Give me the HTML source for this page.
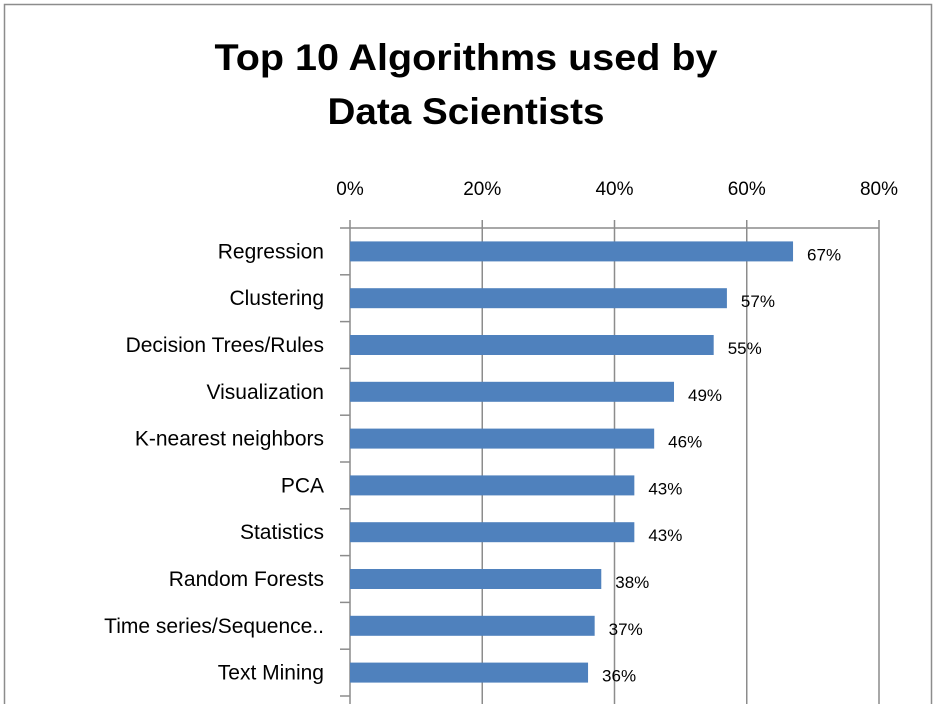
<!DOCTYPE html>
<html><head><meta charset="utf-8"><style>
body{margin:0;background:#fff;}
svg text{font-family:"Liberation Sans",sans-serif;}
</style></head><body>
<svg width="938" height="704" xmlns="http://www.w3.org/2000/svg">
<rect x="4.5" y="4.5" width="927" height="710" fill="#fff" stroke="#8c8c8c" stroke-width="1.5"/>
<text x="466" y="70" text-anchor="middle" font-size="37" font-weight="bold" fill="#000" textLength="503" lengthAdjust="spacingAndGlyphs">Top 10 Algorithms used by</text>
<text x="466" y="124" text-anchor="middle" font-size="37" font-weight="bold" fill="#000" textLength="277" lengthAdjust="spacingAndGlyphs">Data Scientists</text>
<g id="plot"></g>
</svg>
<script>
const categories=["Regression","Clustering","Decision Trees/Rules","Visualization","K-nearest neighbors","PCA","Statistics","Random Forests","Time series/Sequence..","Text Mining"];
const values=[67,57,55,49,46,43,43,38,37,36];
const valueLabels=["67%","57%","55%","49%","46%","43%","43%","38%","37%","36%"];
const ticks=[0,20,40,60,80];
const tickLabels=["0%","20%","40%","60%","80%"];
const NS="http://www.w3.org/2000/svg";
const plotG=document.getElementById('plot');
const x0=350,x1=879,plotTop=228,rowH=46.8;
function xs(v){return x0+(v/80)*(x1-x0);}
function yc(i){return plotTop+23.4+i*rowH;}
function mk(t,a){const e=document.createElementNS(NS,t);for(const k in a)e.setAttribute(k,a[k]);plotG.appendChild(e);return e;}
ticks.forEach((t,i)=>{
 const l=mk('line',{x1:xs(t),x2:xs(t),y1:plotTop-8,y2:704,stroke:'#8c8c8c','stroke-width':1.5});
 
 
 const tx=mk('text',{x:xs(t),y:195,'text-anchor':'middle','font-size':19,fill:'#000'});
 tx.textContent=tickLabels[i];
 
 
});
const ax=mk('line',{x1:x0-10,x2:x1,y1:plotTop,y2:plotTop,stroke:'#8c8c8c','stroke-width':1.5});


categories.forEach((c,i)=>{
 const tk=mk('line',{x1:x0-10,x2:x0,y1:plotTop+(i+1)*rowH,y2:plotTop+(i+1)*rowH,stroke:'#8c8c8c','stroke-width':1.5});
 
 
 const b=mk('rect',{x:x0,y:yc(i)-10,width:xs(values[i])-x0,height:20,fill:'#4f81bd'});
 
 
 const lb=mk('text',{x:324,y:yc(i)+7,'text-anchor':'end','font-size':21,fill:'#000'});
 lb.textContent=c;
 
 
 const vl=mk('text',{x:xs(values[i])+14,y:yc(i)+9,'font-size':17,fill:'#000'});
 vl.textContent=valueLabels[i];
 
 
});
</script>
</body></html>
